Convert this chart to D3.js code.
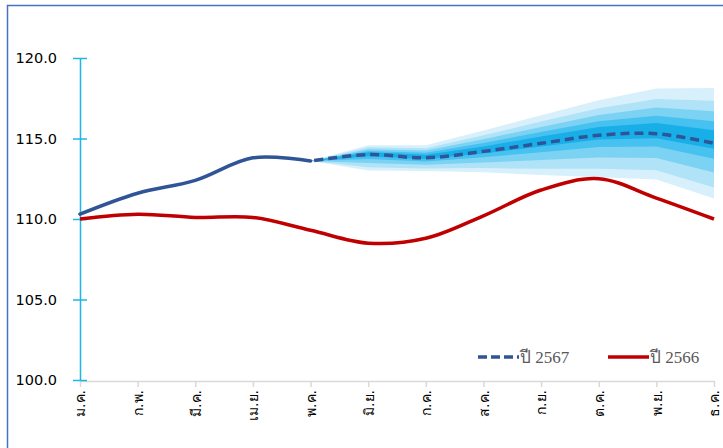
<!DOCTYPE html>
<html>
<head>
<meta charset="utf-8">
<script src="https://cdn.jsdelivr.net/npm/d3@7"></script>
<style>
  body { margin: 0; background: white; }
</style>
</head>
<body>
<svg id="plot"></svg>
<script>
// months (Thai abbreviations)
const months = ["ม.ค.", "ก.พ.", "มี.ค.", "เม.ย.", "พ.ค.", "มิ.ย.", "ก.ค.", "ส.ค.", "ก.ย.", "ต.ค.", "พ.ย.", "ธ.ค."];
const yTicks = [100, 105, 110, 115, 120];

// ปี 2566 (red)
const y2566 = [110.0, 110.3, 110.1, 110.1, 109.3, 108.5, 108.8, 110.2, 111.8, 112.5, 111.3, 110.0];
// ปี 2567 actual (solid) and forecast (dashed)
const y2567actual = [110.3, 111.6, 112.4, 113.8, 113.6, null, null, null, null, null, null, null];
const y2567forecast = [null, null, null, null, 113.6, 114.0, 113.8, 114.2, 114.7, 115.2, 115.3, 114.7];

// fan chart bounds, May..Dec (outer to inner)
const fanMonths = [4, 5, 6, 7, 8, 9, 10, 11];
const upper1 = [113.6, 114.58, 114.58, 115.50, 116.45, 117.38, 118.10, 118.13];
const upper2 = [113.6, 114.45, 114.40, 115.20, 116.05, 116.88, 117.46, 117.34];
const upper3 = [113.6, 114.34, 114.25, 114.95, 115.72, 116.46, 116.92, 116.69];
const upper4 = [113.6, 114.23, 114.11, 114.72, 115.40, 116.07, 116.42, 116.07];
const upper5 = [113.6, 114.14, 113.99, 114.51, 115.12, 115.72, 115.97, 115.52];
const lower5 = [113.6, 113.90, 113.72, 114.07, 114.50, 114.94, 115.02, 114.36];
const lower4 = [113.6, 113.73, 113.57, 113.84, 114.15, 114.47, 114.50, 113.74];
const lower3 = [113.6, 113.48, 113.37, 113.51, 113.66, 113.82, 113.79, 112.89];
const lower2 = [113.6, 113.22, 113.14, 113.16, 113.12, 113.12, 113.03, 111.96];
const lower1 = [113.6, 113.02, 112.98, 112.90, 112.73, 112.60, 112.46, 111.28];

let width = 723, height = 448;
let margin = { top: 58, bottom: 68, left: 80, right: 9 };

let svg = d3.select('#plot')
  .attr('width', width)
  .attr('height', height)
  .style('background', 'white');

// outer frame
svg.append('rect')
  .attr('x', 7.5).attr('y', 5.5)
  .attr('width', 730).attr('height', 460)
  .attr('fill', 'none')
  .attr('stroke', '#4472c4')
  .attr('stroke-width', 1.5);

let xScale = d3.scalePoint()
  .domain(months)
  .range([margin.left, width - margin.right]);

let yScale = d3.scaleLinear()
  .domain([100, 120])
  .range([height - margin.bottom, margin.top]);

// fan bands
const bands = [
  { hi: upper1, lo: lower1, color: '#d8f0fb' },
  { hi: upper2, lo: lower2, color: '#b0e3f7' },
  { hi: upper3, lo: lower3, color: '#7cd2f3' },
  { hi: upper4, lo: lower4, color: '#47c1ef' },
  { hi: upper5, lo: lower5, color: '#18afe9' }
];
let area = d3.area()
  .x(d => xScale(months[d.m]))
  .y0(d => yScale(d.lo))
  .y1(d => yScale(d.hi));
bands.forEach(function(b) {
  let pts = fanMonths.map((m, i) => ({ m: m, hi: b.hi[i], lo: b.lo[i] }));
  svg.append('path')
    .datum(pts)
    .attr('d', area)
    .attr('fill', b.color);
});

// x axis
let xAxis = svg.append('g')
  .attr('transform', `translate(0, ${height - margin.bottom + 1})`)
  .call(d3.axisBottom(xScale).tickSize(6).tickSizeOuter(0));
xAxis.select('.domain').attr('stroke', '#d9d9d9').attr('stroke-width', 1.5);
xAxis.selectAll('.tick line').attr('stroke', '#d9d9d9').attr('stroke-width', 1.5);
xAxis.selectAll('.tick text')
  .attr('font-family', 'Tahoma, "DejaVu Sans", sans-serif')
  .attr('font-size', 14)
  .attr('fill', '#000')
  .attr('text-anchor', 'end')
  .attr('transform', 'rotate(-90)')
  .attr('x', -9)
  .attr('y', 0)
  .attr('dy', '0.35em');

// y axis
let yAxis = svg.append('g')
  .attr('transform', `translate(${margin.left}, 0)`)
  .call(d3.axisLeft(yScale).tickValues(yTicks).tickFormat(d3.format('.1f')).tickSize(0).tickSizeOuter(0));
yAxis.select('.domain').attr('stroke', '#1fb4ea').attr('stroke-width', 1.5);
yAxis.selectAll('.tick line')
  .attr('x1', -7).attr('x2', 7)
  .attr('stroke', '#1fb4ea').attr('stroke-width', 1.5);
yAxis.selectAll('.tick text')
  .attr('x', -23)
  .attr('font-family', '"DejaVu Sans", Verdana, sans-serif')
  .attr('font-size', 14.5)
  .attr('fill', '#000');

// lines
let line = d3.line()
  .defined(d => d.v != null)
  .x(d => xScale(d.m))
  .y(d => yScale(d.v))
  .curve(d3.curveCatmullRom.alpha(0.5));

const toPts = arr => months.map((m, i) => ({ m: m, v: arr[i] }));

svg.append('path')
  .datum(toPts(y2566))
  .attr('d', line)
  .attr('fill', 'none')
  .attr('stroke', '#c00000')
  .attr('stroke-width', 3.5);

svg.append('path')
  .datum(toPts(y2567actual))
  .attr('d', line)
  .attr('fill', 'none')
  .attr('stroke', '#2f5597')
  .attr('stroke-width', 3.5)
  .attr('stroke-linecap', 'round');

svg.append('path')
  .datum(toPts(y2567forecast))
  .attr('d', line)
  .attr('fill', 'none')
  .attr('stroke', '#2f5597')
  .attr('stroke-width', 3.5)
  .attr('stroke-dasharray', '9,5')
  .attr('stroke-dashoffset', -4);

// legend
const legendItems = [
  { label: 'ปี 2567', color: '#2f5597', dash: '9,4', x: 478 },
  { label: 'ปี 2566', color: '#c00000', dash: null, x: 608 }
];
let legend = svg.append('g');
legendItems.forEach(function(d) {
  legend.append('line')
    .attr('x1', d.x).attr('x2', d.x + 41)
    .attr('y1', 357).attr('y2', 357)
    .attr('stroke', d.color)
    .attr('stroke-width', 3.5)
    .attr('stroke-dasharray', d.dash);
  legend.append('text')
    .attr('x', d.x + 42)
    .attr('y', 363)
    .attr('font-family', '"Liberation Serif", "Times New Roman", serif')
    .attr('font-size', 17)
    .attr('fill', '#595959')
    .text(d.label);
});
</script>
</body>
</html>
